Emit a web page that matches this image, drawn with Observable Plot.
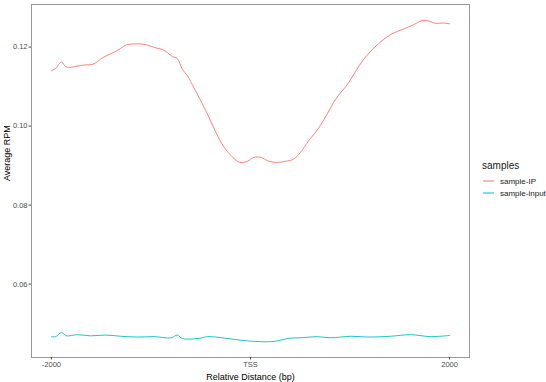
<!DOCTYPE html>
<html>
<head>
<meta charset="utf-8">
<script src="https://cdn.jsdelivr.net/npm/d3@7"></script>
<script src="https://cdn.jsdelivr.net/npm/@observablehq/plot@0.6"></script>
<style>
  html, body { margin: 0; padding: 0; background: #fff; }
  #wrap { position: relative; width: 546px; height: 382px; font-family: "Liberation Sans", Arial, sans-serif; }
  #legend { position: absolute; left: 482px; top: 160px; font-size: 8px; color: #1a1a1a; }
  #legend .title { font-size: 10px; margin-bottom: 4px; }
  #legend .item { display: flex; align-items: center; height: 12px; }
  #legend svg { margin: 0 4px 0 0; display: block; }
</style>
</head>
<body>
<div id="wrap"></div>
<script>
const samples = ["sample-IP", "sample-input"];
const colors = ["#F8766D", "#00BFC4"];

const ipPos = [-2000,-1957,-1900,-1854,-1800,-1740,-1655,-1588,-1538,-1472,-1370,-1303,-1243,-1170,-1103,-1036,-952,-885,-835,-785,-735,-685,-635,-568,-508,-433,-350,-266,-182,-106,-32,35,102,185,269,352,430,504,587,688,771,855,989,1089,1190,1307,1414,1541,1641,1725,1792,1858,1925,2000];
const ipVal = [0.1140,0.1146,0.1162,0.1150,0.1149,0.1152,0.1155,0.1156,0.1163,0.1175,0.1187,0.1197,0.1206,0.1208,0.1208,0.1205,0.1198,0.1194,0.1186,0.1176,0.1171,0.1144,0.1128,0.1097,0.1068,0.1031,0.0985,0.0947,0.0922,0.0908,0.0911,0.0921,0.0921,0.0911,0.0908,0.0911,0.0916,0.0934,0.0964,0.0996,0.1031,0.1068,0.1111,0.1152,0.1185,0.1213,0.1233,0.1246,0.1257,0.1267,0.1266,0.1260,0.1261,0.1259];

const inPos = [-2000,-1957,-1900,-1847,-1740,-1606,-1456,-1305,-1137,-970,-796,-735,-685,-508,-433,-250,-66,152,269,386,504,671,805,1005,1173,1407,1608,1808,2000];
const inVal = [0.04668,0.0467,0.0477,0.0469,0.0472,0.0469,0.0471,0.0468,0.0466,0.0467,0.0464,0.0471,0.0462,0.0463,0.0467,0.0463,0.0457,0.0454,0.0456,0.0463,0.0464,0.0467,0.0464,0.0468,0.0466,0.0468,0.0472,0.0467,0.0470];

const xTicks = [-2000, 0, 2000];
const xTickLabels = ["-2000", "TSS", "2000"];
const yTicks = [0.06, 0.08, 0.10, 0.12];

const data = [
  ...ipPos.map((p, i) => ({pos: p, val: ipVal[i], sample: samples[0]})),
  ...inPos.map((p, i) => ({pos: p, val: inVal[i], sample: samples[1]}))
];

const chart = Plot.plot({
  width: 476,
  height: 382,
  marginLeft: 31,
  marginRight: 7,
  marginTop: 4,
  marginBottom: 25,
  style: {fontFamily: "Liberation Sans, Arial, sans-serif", background: "#fff"},
  x: {domain: [-2200, 2200], ticks: xTicks, tickFormat: d => xTickLabels[xTicks.indexOf(d)], tickSize: 2.5, tickPadding: 1.5, label: null},
  y: {domain: [0.04142, 0.13078], ticks: yTicks, tickFormat: d3.format(".2f"), tickSize: 2.5, tickPadding: 1.5, label: null},
  color: {domain: samples, range: colors},
  marks: [
    Plot.frame({stroke: "#999", strokeWidth: 1}),
    Plot.line(data, {x: "pos", y: "val", z: "sample", stroke: "sample", strokeWidth: 0.9, curve: "catmull-rom"}),
    Plot.axisX({ticks: xTicks, tickFormat: d => xTickLabels[xTicks.indexOf(d)], tickSize: 2.5, tickPadding: 1.5, fontSize: 7.5, color: "#4d4d4d", stroke: "#4d4d4d", label: null}),
    Plot.axisY({ticks: yTicks, tickFormat: d3.format(".2f"), tickSize: 2.5, tickPadding: 1.5, fontSize: 7.5, color: "#4d4d4d", stroke: "#4d4d4d", label: null}),
    Plot.text(["Relative Distance (bp)"], {frameAnchor: "bottom", dy: 20, fontSize: 9, fill: "#000", lineAnchor: "middle"}),
    Plot.text(["Average RPM"], {frameAnchor: "left", dx: -24, rotate: -90, fontSize: 9, fill: "#000"})
  ]
});

const wrap = document.getElementById("wrap");
wrap.appendChild(chart);

const legend = document.createElement("div");
legend.id = "legend";
legend.innerHTML = `<div class="title">samples</div>` +
  samples.map((s, i) => `<div class="item"><svg width="14" height="12"><line x1="1" x2="12" y1="6" y2="6" stroke="${colors[i]}" stroke-width="1"/></svg><span>${s}</span></div>`).join("");
wrap.appendChild(legend);
</script>
</body>
</html>
